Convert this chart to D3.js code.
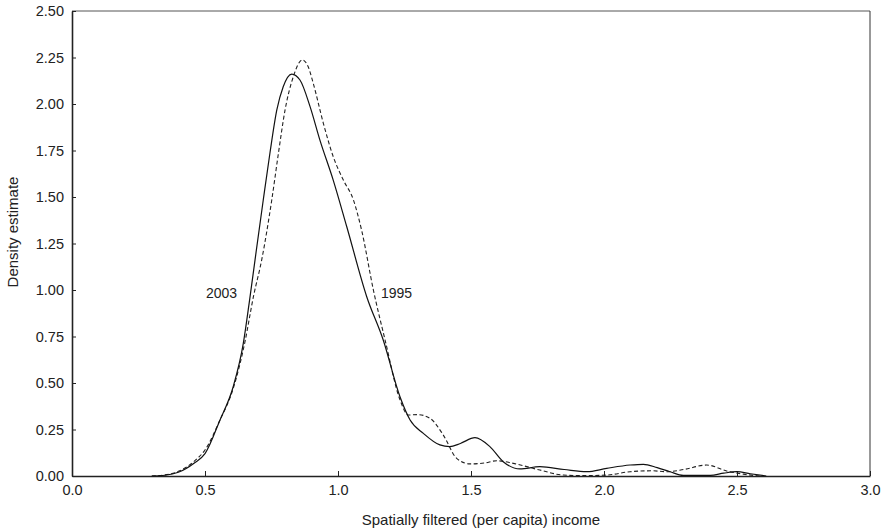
<!DOCTYPE html>
<html>
<head>
<meta charset="utf-8">
<script src="https://cdn.jsdelivr.net/npm/d3@7"></script>
<style>
  body { margin: 0; background: #fff; }
  text { font-family: "Liberation Sans", Arial, sans-serif; fill: #222; }
</style>
</head>
<body>
<svg id="chart" width="889" height="531"></svg>
<script>
// density estimates
const x2003 = [0.30, 0.35, 0.40, 0.46, 0.50, 0.556, 0.606, 0.644, 0.668, 0.688, 0.719, 0.744, 0.770, 0.794, 0.826, 0.857, 0.895, 0.932, 0.982, 1.033, 1.108, 1.17, 1.233, 1.271, 1.321, 1.383, 1.42, 1.46, 1.515, 1.571, 1.621, 1.684, 1.759, 1.85, 1.935, 2.01, 2.098, 2.148, 2.2, 2.248, 2.298, 2.4, 2.45, 2.499, 2.55, 2.61];
const y2003 = [0.0, 0.004, 0.02, 0.07, 0.12, 0.30, 0.48, 0.713, 0.95, 1.161, 1.484, 1.735, 1.968, 2.093, 2.161, 2.129, 1.986, 1.806, 1.591, 1.34, 0.964, 0.731, 0.426, 0.301, 0.229, 0.167, 0.158, 0.175, 0.206, 0.158, 0.077, 0.038, 0.05, 0.035, 0.023, 0.041, 0.059, 0.063, 0.045, 0.023, 0.003, 0.003, 0.015, 0.023, 0.012, 0.0];

const x1995 = [0.30, 0.35, 0.40, 0.46, 0.50, 0.556, 0.606, 0.65, 0.682, 0.713, 0.751, 0.776, 0.801, 0.832, 0.866, 0.888, 0.907, 0.945, 0.982, 1.02, 1.058, 1.089, 1.133, 1.177, 1.233, 1.264, 1.30, 1.346, 1.396, 1.446, 1.496, 1.55, 1.597, 1.659, 1.759, 1.847, 1.93, 2.01, 2.098, 2.18, 2.236, 2.30, 2.386, 2.461, 2.524, 2.586];
const y1995 = [0.0, 0.006, 0.025, 0.08, 0.14, 0.30, 0.47, 0.72, 0.964, 1.161, 1.484, 1.735, 1.968, 2.147, 2.237, 2.2, 2.111, 1.896, 1.717, 1.591, 1.484, 1.32, 1.0, 0.731, 0.41, 0.328, 0.33, 0.31, 0.22, 0.095, 0.065, 0.07, 0.082, 0.068, 0.032, 0.005, 0.002, 0.005, 0.023, 0.028, 0.023, 0.035, 0.059, 0.027, 0.01, 0.0];

const xTicks = [0, 0.5, 1.0, 1.5, 2.0, 2.5, 3.0];
const yTicks = [0, 0.25, 0.5, 0.75, 1.0, 1.25, 1.5, 1.75, 2.0, 2.25, 2.5];

const svg = d3.select("#chart");

const x = d3.scaleLinear().domain([0, 3]).range([72, 870]);
const y = d3.scaleLinear().domain([0, 2.5]).range([476, 11]);

// frame top and right
svg.append("line")
  .attr("x1", x(0)).attr("x2", x(3)).attr("y1", y(2.5)).attr("y2", y(2.5))
  .attr("stroke", "#555").attr("stroke-width", 1);
svg.append("line")
  .attr("x1", x(3)).attr("x2", x(3)).attr("y1", y(0)).attr("y2", y(2.5))
  .attr("stroke", "#333").attr("stroke-width", 1);

// axes, ticks drawn inward
const xAxis = svg.append("g")
  .attr("transform", "translate(0," + y(0) + ")")
  .call(d3.axisBottom(x).tickValues(xTicks).tickFormat(d3.format(".1f")).tickSizeInner(-5).tickSizeOuter(0).tickPadding(9));
const yAxis = svg.append("g")
  .attr("transform", "translate(" + x(0) + ",0)")
  .call(d3.axisLeft(y).tickValues(yTicks).tickFormat(d3.format(".2f")).tickSizeInner(-4).tickSizeOuter(0).tickPadding(8));

[xAxis, yAxis].forEach(function(g) {
  g.select(".domain").attr("stroke", "#222").attr("stroke-width", 1.6);
  g.selectAll(".tick line").attr("stroke", "#222").attr("stroke-width", 1);
  g.selectAll(".tick text").style("font-size", "14.5px").style("font-family", "'Liberation Sans', Arial, sans-serif").attr("fill", "#222");
});

const line = d3.line()
  .x(function(d) { return x(d[0]); })
  .y(function(d) { return y(d[1]); })
  .curve(d3.curveMonotoneX);

svg.append("path")
  .datum(d3.zip(x1995, y1995))
  .attr("d", line)
  .attr("fill", "none")
  .attr("stroke", "#222")
  .attr("stroke-width", 1.1)
  .attr("stroke-dasharray", "4,2.5");

svg.append("path")
  .datum(d3.zip(x2003, y2003))
  .attr("d", line)
  .attr("fill", "none")
  .attr("stroke", "#111")
  .attr("stroke-width", 1.2);

// series labels
svg.append("text").attr("x", 206).attr("y", 298).style("font-size", "14px").text("2003");
svg.append("text").attr("x", 381).attr("y", 298).style("font-size", "14px").text("1995");

// axis titles
svg.append("text")
  .attr("x", 481).attr("y", 525)
  .attr("text-anchor", "middle")
  .style("font-size", "15px")
  .text("Spatially filtered (per capita) income");
svg.append("text")
  .attr("transform", "translate(18,232) rotate(-90)")
  .attr("text-anchor", "middle")
  .style("font-size", "15px")
  .text("Density estimate");
</script>
</body>
</html>
